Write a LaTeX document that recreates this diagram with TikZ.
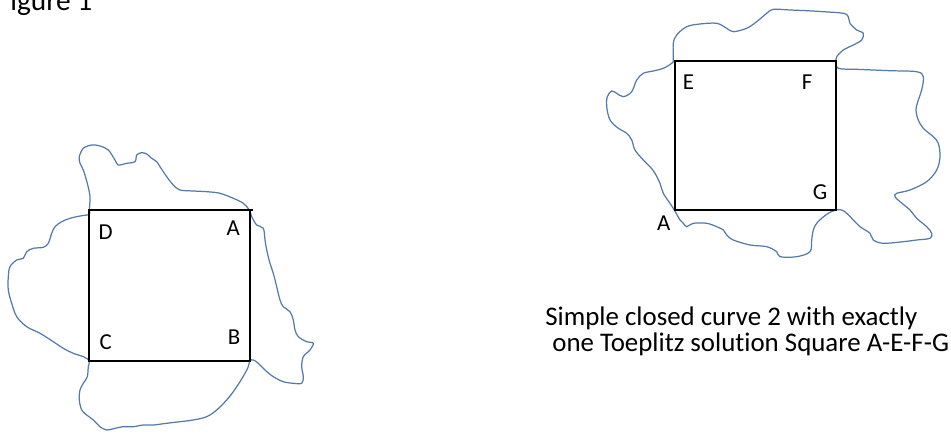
\documentclass[tikz,border=0pt]{standalone}
\usepackage{fontspec}
\setmainfont{Carlito}[Ligatures={NoCommon}]
\definecolor{curveblue}{RGB}{84,122,170}
\begin{document}
\begin{tikzpicture}[x=0.02cm,y=-0.02cm,
  sq/.style={draw=black,line width=0.6pt},
  lbl/.style={inner sep=0pt,font=\fontsize{13}{15}\selectfont},
  captext/.style={inner sep=0pt,anchor=base west,font=\fontsize{15.3}{18}\selectfont}]
\useasboundingbox (0,0) rectangle (951,435);
% title (cut off at the page edge, as in the reference)
\begin{scope}
\clip (10,-40) rectangle (200,30);
\node[anchor=base west,inner sep=0pt,font=\fontsize{16.7}{20}\selectfont] (title) at (-3.5,10.5) {Figure 1};
\end{scope}
% ---------- left figure ----------
\draw[curveblue,line width=0.7pt] plot[smooth cycle,tension=0.55] coordinates {
(89.3,210) (90,196.7) (87.3,183.3) (83.3,170) (80,163.3) (79.3,156.7) (83.3,148.3) (91.7,145) (100,146) (108.3,150) (115,160) (118.3,165) (126.7,163.3) (135,161.7) (136.7,155) (141.7,152.7) (146.7,154) (151.7,158.3) (156.7,161.7) (160,166.7) (166.7,176.7) (173.3,185) (180,190) (193.3,191) (206.7,191.7) (220,193.3) (233.3,198.3) (243.3,203.3) (249.3,210) (251.7,216.7) (256.7,225) (263.3,228.3) (265,240) (266.7,250) (270,263.3) (273.3,273.3) (276.7,286.7) (280,300) (283.3,306.7) (290,311.7) (293.3,320) (295,330) (298.3,336.7) (306.7,341.7) (313.3,343.3) (310,350) (303.3,356.7) (301.7,366.7) (303.3,376.7) (301.7,383.3) (293.3,383.3) (283.3,381.7) (273.3,376.7) (265,370) (258.3,363.3) (253.3,360) (250,360.7) (248.3,366.7) (245,373.3) (240,381.7) (233.3,391.7) (226.7,400) (216.7,410) (206.7,416.7) (193.3,420) (180,421.7) (166.7,423.3) (153.3,425) (143.3,425) (133.3,426.7) (123.3,426.7) (115,428.3) (106.7,430) (100,426.7) (93.3,420) (86.7,415) (81.7,410) (79.3,400) (80,390) (83.3,383.3) (87.3,376.7) (88.3,366.7) (89.3,360.7) (83.3,356.7) (73.3,353.3) (63.3,348.3) (53.3,341.7) (40,333.3) (26.7,326.7) (16.7,316.7) (11.7,303.3) (8.3,290) (8.3,276.7) (10,266.7) (16.7,260) (23.3,258.3) (26.7,251.7) (33.3,248.3) (43.3,247.3) (48.3,243.3) (51.7,233.3) (55,226.7) (61.7,221.7) (70,218.3) (80,216) (89.3,214.3)};
\coordinate (LD) at (89,210);
\coordinate (LA) at (250,210);
\coordinate (LB) at (250,361);
\coordinate (LC) at (89,361);
\coordinate (LAx) at (253,210);
\draw[sq] (LD) rectangle (LB);
\draw[sq] (LA) -- (LAx);
\node[lbl] (d) at (105.7,232.5) {D};
\node[lbl] (a) at (233.3,228.3) {A};
\node[lbl] (c) at (105.7,341.7) {C};
\node[lbl] (b) at (234,337.5) {B};
% ---------- right figure ----------
\draw[curveblue,line width=0.7pt] plot[smooth cycle,tension=0.55] coordinates {
(673.3,60) (673.3,43.3) (676.7,35) (686.7,26.7) (700,24) (716.7,23.3) (726.7,28.3) (733.3,31.7) (746.7,28.3) (756.7,21.7) (766.7,13.3) (773.3,9.3) (790,10) (806.7,10.7) (823.3,11.7) (843.3,13.3) (848.3,16.7) (850,23.3) (856.7,30) (863.3,33.3) (861.7,40) (853.3,45) (843.3,50) (836.7,56.7) (835.7,60.7) (838.3,68.3) (856.7,69.3) (890,70.7) (916.7,71.7) (923.3,76.7) (921.7,90) (918.3,100) (916,110) (918.3,120) (923.3,128.3) (933.3,136.7) (938.3,143.3) (940,156.7) (936.7,170) (926.7,181.7) (910,190) (896.7,193.3) (895,196.7) (900,201.7) (910,210) (916.7,218.3) (926.7,226.7) (931.7,233.3) (930,238.3) (916.7,240) (903.3,241.7) (883.3,243.3) (873.3,240) (870,233.3) (860,226.7) (853.3,220) (846.7,213.3) (841.7,210) (835.7,210) (828.3,213.3) (821.7,218.3) (816.7,223.3) (813.3,230) (811.7,240) (810,251.7) (796.7,256.7) (780,256.7) (776.7,251.7) (766.7,246.7) (750,245) (733.3,240) (726.7,235) (723.3,230) (716.7,226.7) (706.7,223.3) (693.3,223.3) (686.7,226.7) (683.3,223.3) (680,220) (674.7,210.7) (670,203.3) (663.3,193.3) (660,183.3) (655,173.3) (650,166.7) (643.3,160) (635,150) (631.7,140) (626.7,133.3) (618.3,128.3) (610,120) (606.7,106.7) (607.3,96.7) (611.7,91) (616.7,93.3) (623.3,96.7) (631.7,91.7) (636.7,80) (643.3,73.3) (653.3,71) (663.3,68.3) (671.7,63.3)};
\coordinate (RE) at (675,61);
\coordinate (RG) at (836,210);
\draw[sq] (RE) rectangle (RG);
\node[lbl] (e) at (688.5,82.5) {E};
\node[lbl] (f) at (807,82.5) {F};
\node[lbl] (g) at (820,192) {G};
\node[lbl] (a2) at (663.8,223.3) {A};
% caption
\node[captext] (cap1) at (545,326) {Simple closed curve 2 with exactly};
\node[captext] (cap2) at (552,351.5) {one Toeplitz solution Square A-E-F-G};
\end{tikzpicture}
\end{document}
